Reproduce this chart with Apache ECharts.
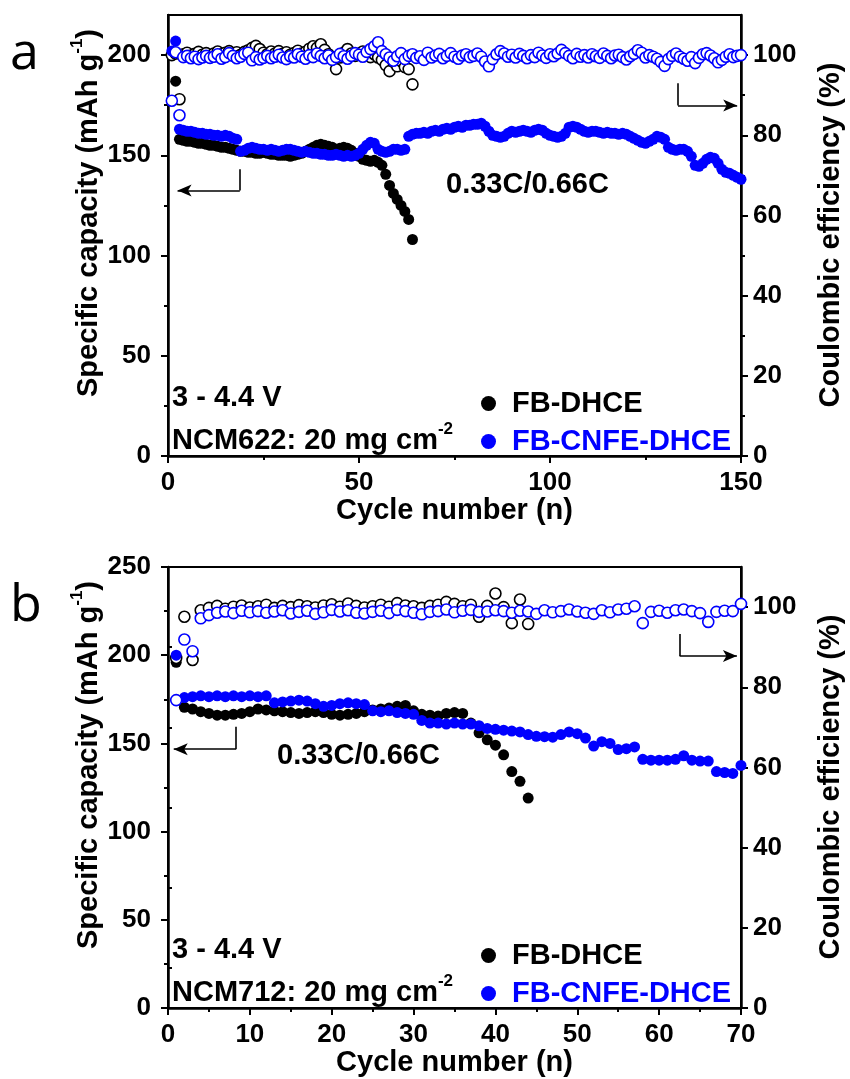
<!DOCTYPE html>
<html>
<head>
<meta charset="utf-8">
<script src="https://cdn.jsdelivr.net/npm/echarts@6/dist/echarts.min.js"></script>
<style>
  html, body { margin: 0; padding: 0; background: #fff; }
  #chart { width: 850px; height: 1079px; }
</style>
</head>
<body>
<div id="chart"></div>
<script>
// panel a: NCM622, 150 cycles
var capCnfeA = [
  202, 207, 163, 162.5, 162, 162, 161.5, 161, 161, 160.5,
  160.5, 160, 160, 159.5, 160, 159.5, 158.5, 158, 152, 152.5,
  153.5, 154, 153.5, 153, 153, 152.5, 153, 152.5, 152, 152.5,
  153, 153, 152.5, 152, 151.5, 152, 151.5, 151, 151, 150.5,
  150.5, 150, 150, 150.5, 150, 149.5, 150, 149.5, 150, 151,
  153, 155, 156.5, 156, 153, 152, 151.5, 152, 153, 153,
  152.5, 153, 159.5, 160.5, 161, 161, 161.5, 161, 162, 162.5,
  162, 163, 163.5, 163, 164, 164.5, 164, 165, 165, 165.5,
  165.5, 166, 164.5, 162, 160, 159.5, 159, 159.5, 161, 162,
  161.5, 162, 162.5, 162, 161.5, 162.5, 163, 162.5, 161, 160,
  159.5, 159, 159.5, 161, 164, 164.5, 164, 163, 162, 161.5,
  162, 162, 161.5, 161, 161.5, 161, 161, 160.5, 161, 160.5,
  159.5, 158.5, 157.5, 156.5, 156, 157, 158, 159.5, 159, 158,
  154, 153, 152.5, 153, 153, 152, 149.5, 145, 144.5, 146,
  148, 149, 148.5, 146, 143, 141.5, 141, 140, 139, 138
];
var ceCnfeA = [
  88.6, 100.7, 85, 99.5, 99.8, 99.2, 99.6, 99.0, 99.4, 99.8,
  99.3, 99.6, 100.2, 99.1, 99.5, 100.5, 99.8, 99.2, 99.6, 100.3,
  100.6, 98.7, 99.5, 98.9, 99.3, 99.8, 99.2, 99.6, 100.1, 99.4,
  99.0, 99.7, 99.4, 100.2, 99.6, 99.1, 100.0, 99.5, 100.4, 99.8,
  99.2, 99.9, 98.8, 99.5, 100.3, 99.7, 99.1, 99.8, 100.5, 100.1,
  99.6, 100.8, 101.5, 102.2, 103.2, 101.0, 100.2, 99.4, 98.6, 99.7,
  100.5, 99.0, 99.8, 100.2, 99.3, 99.7, 98.8, 100.6, 99.4, 99.9,
  100.3, 99.2, 99.8, 100.5, 99.6, 99.1, 99.9, 100.2, 99.5, 99.8,
  100.4, 99.6, 98.4, 97.2, 99.0, 100.2, 101.0, 100.4, 99.6, 100.1,
  99.4, 100.3, 99.8, 99.2, 100.0, 99.5, 100.6, 99.9, 99.3, 100.2,
  99.7, 100.4, 101.3, 100.5, 99.8, 99.2, 100.3, 99.6, 100.0, 99.4,
  100.2, 99.7, 99.3, 100.4, 99.8, 99.2, 99.9, 100.1, 99.5, 98.9,
  99.7, 100.3, 101.2, 100.6, 99.4, 100.0, 99.6, 99.1, 98.3, 97.3,
  99.0, 99.8, 100.4, 99.6, 99.1, 98.6, 99.5, 98.0, 99.3, 100.2,
  100.5, 99.9, 99.2, 98.2, 98.8, 99.6, 100.2, 99.5, 99.8, 100.0
];
var capDhceA = [
  200, 187, 158, 157.5, 157, 157, 156.5, 156, 156, 155.5,
  155, 155, 154.5, 154, 154, 153.5, 153, 152.5, 152, 152,
  151.5, 151.5, 151, 151, 151.5, 151, 150.5, 150.5, 150, 150,
  150, 149.5, 150, 150.5, 151, 152, 153, 154, 155, 155.5,
  155, 154.5, 154, 153, 153.5, 154, 153.5, 152.5, 151, 149.5,
  148, 147.5, 147, 147.5, 146.5, 145, 140.5, 135, 131, 128,
  125, 122, 118, 108
];
var ceDhceA = [
  100.0, 100.4, 89.0, 100.2, 100.6, 99.9, 100.3, 100.8, 100.1, 100.5,
  99.8, 100.4, 100.9, 100.2, 100.6, 101.0, 100.3, 100.7, 100.1, 100.8,
  101.2, 101.8, 102.3, 101.5, 100.6, 100.2, 100.9, 100.4, 101.0, 100.3,
  100.7, 100.1, 100.5, 101.1, 100.4, 100.8, 101.6, 102.2, 101.8, 102.7,
  101.3, 100.2, 99.0, 96.5, 99.4, 100.6, 101.5, 100.4, 99.8, 100.3,
  100.9, 100.1, 99.5, 100.2, 99.4, 98.8, 97.5, 96.0, 98.3, 97.2,
  98.5, 97.0, 96.5, 92.7
];

// panel b: NCM712, 70 cycles
var capCnfeB = [
  200, 176, 176.5, 177, 176.5, 177, 176.5, 177, 176.5, 177,
  176.5, 177, 173, 173.5, 174, 174.5, 174, 172.5, 171, 171.5,
  172.5, 173, 172.5, 172, 168.5, 168, 168.5, 167.5, 167, 166.5,
  163, 161.5, 161.5, 161, 161.5, 161, 161, 160, 158.5, 158,
  157.5, 157, 156.5, 155, 154, 153.8, 153.5, 155, 156.5, 155.5,
  153, 148.5, 151, 150, 146.5, 147, 148, 141, 140.5, 140.5,
  140.5, 141, 143, 140.5, 140, 140, 134, 133.5, 133, 137.5
];
var ceCnfeB = [
  76.8, 91.9, 89.0, 97.2, 98.0, 98.6, 98.9, 98.5, 99.1, 98.7,
  99.0, 98.6, 98.9, 99.2, 98.4, 98.8, 99.1, 98.3, 98.7, 99.3,
  98.9, 99.2, 98.6, 98.4, 98.8, 99.1, 98.5, 99.3, 99.0, 98.6,
  98.2, 98.8, 99.0, 99.4, 98.7, 99.1, 99.3, 98.8, 98.9, 99.2,
  99.0, 98.6, 99.1, 98.9, 98.3, 99.2, 98.7, 99.0, 99.4, 98.9,
  98.6, 98.3, 99.2, 98.7, 99.4, 99.6, 100.2, 96.0, 98.8, 99.1,
  98.6, 99.2, 99.4, 99.0, 98.5, 96.3, 98.8, 99.1, 99.0, 100.8
];
var capDhceB = [
  196, 170.5, 169.5, 168, 167, 166, 166, 166.5, 167, 168,
  169.5, 169, 168.5, 168, 167.5, 167, 167.5, 168, 167.5, 166.5,
  166, 166.5, 167, 168, 169, 169.5, 170, 171, 171.5, 168.5,
  166.5, 166, 165.5, 167, 167.5, 167, 161.5, 156, 152, 149,
  143.5, 134, 128.5, 119
];
var ceDhceB = [
  87.3, 97.6, 86.8, 99.2, 99.8, 100.3, 99.6, 100.1, 100.4, 99.9,
  100.2, 100.6, 99.8, 100.3, 100.0, 100.5, 100.2, 99.9, 100.4, 100.7,
  100.1, 100.9, 100.3, 99.9, 100.2, 100.6, 100.1, 101.0, 100.4, 100.2,
  99.8, 100.3, 100.6, 101.3, 100.8, 100.2, 100.6, 97.6, 100.3, 103.4,
  100.0, 96.0, 101.9, 95.8
];

var capTicksA = [0, 50, 100, 150, 200];
var capMinorA = [25, 75, 125, 175];
var ceTicks = [0, 20, 40, 60, 80, 100];
var ceMinor = [10, 30, 50, 70, 90];

var BLUE = '#0000ff';
var FONT = 'Liberation Sans';
var TICK_FS = 26;
var TEXT_FS = 29;

function toPoints(arr) {
  return arr.map(function (v, i) { return [i + 1, v]; });
}

var chart = echarts.init(document.getElementById('chart'));

function xAxisOf(grid, max, interval) {
  return {
    type: 'value', gridIndex: grid, min: 0, max: max, interval: interval,
    name: 'Cycle number (n)', nameLocation: 'middle', nameGap: 37,
    nameTextStyle: {fontFamily: FONT, fontWeight: 'bold', fontSize: TEXT_FS, color: '#000'},
    axisLine: {show: true, lineStyle: {color: '#000', width: 2.5}},
    axisTick: {show: true, inside: false, length: 7, lineStyle: {color: '#000', width: 2}},
    minorTick: {show: true, splitNumber: 2, length: 4, lineStyle: {color: '#000', width: 2}},
    axisLabel: {fontFamily: FONT, fontWeight: 'bold', fontSize: TICK_FS, color: '#000', margin: 14},
    splitLine: {show: false}
  };
}

function yAxisOf(grid, pos, max, interval, ticks, minor) {
  var ax = {
    type: 'value', gridIndex: grid, position: pos, min: 0, max: max, interval: interval,
    axisLine: {show: true, onZero: false, lineStyle: {color: '#000', width: 2.5}},
    axisTick: {show: true, inside: false, length: 7, lineStyle: {color: '#000', width: 2}},
    axisLabel: {fontFamily: FONT, fontWeight: 'bold', fontSize: TICK_FS, color: '#000', margin: pos === 'left' ? 17 : 12},
    splitLine: {show: false}
  };
  if (ticks) {
    ax.axisTick.customValues = ticks;
    ax.axisLabel.customValues = ticks;
  }
  if (minor === true) {
    ax.minorTick = {show: true, splitNumber: 2, length: 4, lineStyle: {color: '#000', width: 2}};
  }
  return ax;
}

function minorAxisOf(grid, pos, max, values) {
  return {
    type: 'value', gridIndex: grid, position: pos, min: 0, max: max,
    axisLine: {show: false},
    axisTick: {show: true, inside: false, length: 4, customValues: values, lineStyle: {color: '#000', width: 2}},
    axisLabel: {show: false},
    splitLine: {show: false}
  };
}

function filled(name, color, x, y, data) {
  return {
    name: name, type: 'scatter', xAxisIndex: x, yAxisIndex: y,
    symbol: 'circle', symbolSize: 11, data: toPoints(data),
    itemStyle: {color: color, opacity: 1}
  };
}

function hollow(name, color, x, y, data) {
  return {
    name: name, type: 'scatter', xAxisIndex: x, yAxisIndex: y,
    symbol: 'circle', symbolSize: 11, data: toPoints(data),
    itemStyle: {color: '#fff', borderColor: color, borderWidth: 1.6, opacity: 1}
  };
}

function arrow(p0, p1, p2) {
  return {
    silent: true, animation: false,
    symbol: ['none', 'arrow'], symbolSize: [9, 14],
    lineStyle: {color: '#000', width: 1.6, type: 'solid'},
    label: {show: false},
    data: [
      [{coord: p0, symbol: 'none'}, {coord: p1, symbol: 'none'}],
      [{coord: p1, symbol: 'none'}, {coord: p2}]
    ]
  };
}

var txt = {fontFamily: FONT, fontWeight: 'bold', fontSize: TEXT_FS, fill: '#000'};
var rich = {
  n: {fontFamily: FONT, fontWeight: 'bold', fontSize: TEXT_FS, lineHeight: 34, verticalAlign: 'bottom'},
  s: {fontFamily: FONT, fontWeight: 'bold', fontSize: 17, lineHeight: 34, verticalAlign: 'top'}
};

function label(x, y, text) {
  var st = Object.assign({text: text, textVerticalAlign: 'middle'}, txt);
  return {type: 'text', x: x, y: y, style: st, silent: true};
}

function panelGraphics(dy, ncm) {
  return [
    {type: 'text', x: 10, y: 54 + dy, silent: true,
      style: {text: dy ? 'b' : 'a', fontFamily: 'Open Sans', fontSize: 52, fill: '#000', textVerticalAlign: 'middle'}},
    {type: 'text', x: 86, y: 213 + dy, rotation: Math.PI / 2, silent: true,
      style: {text: '{n|Specific capacity (mAh g}{s|-1}{n|)}', rich: rich, fill: '#000',
        textAlign: 'center', textVerticalAlign: 'middle'}},
    {type: 'text', x: 831, y: 235 + dy, rotation: Math.PI / 2, silent: true,
      style: Object.assign({text: 'Coulombic efficiency (%)', textAlign: 'center', textVerticalAlign: 'middle'}, txt)},
    label(172, 398 + dy, '3 - 4.4 V'),
    {type: 'text', x: 172, y: 438 + dy, silent: true,
      style: {text: '{n|' + ncm + ': 20 mg cm}{s|-2}', rich: rich, fill: '#000', textVerticalAlign: 'middle'}}
  ];
}

var option = {
  animation: false,
  backgroundColor: '#fff',
  grid: [
    {left: 168, right: 109, top: 15, height: 441, show: true, borderColor: '#000', borderWidth: 2, backgroundColor: 'transparent'},
    {left: 168, right: 109, top: 567, height: 441, show: true, borderColor: '#000', borderWidth: 2, backgroundColor: 'transparent'}
  ],
  xAxis: [xAxisOf(0, 150, 50), xAxisOf(1, 70, 10)],
  yAxis: [
    yAxisOf(0, 'left', 220, 50, capTicksA, false),
    yAxisOf(0, 'right', 110, 20, ceTicks, false),
    minorAxisOf(0, 'left', 220, capMinorA),
    minorAxisOf(0, 'right', 110, ceMinor),
    yAxisOf(1, 'left', 250, 50, null, true),
    yAxisOf(1, 'right', 110, 20, ceTicks, false),
    minorAxisOf(1, 'right', 110, ceMinor)
  ],
  legend: [0, 552].map(function (dy) {
    return {
      orient: 'vertical', left: 476, top: 384 + dy, itemWidth: 15, itemHeight: 15, itemGap: 9,
      icon: 'circle', selectedMode: false,
      textStyle: {fontFamily: FONT, fontWeight: 'bold', fontSize: TEXT_FS, padding: [0, 0, 0, 11]},
      data: [
        {name: 'FB-DHCE', textStyle: {color: '#000'}},
        {name: 'FB-CNFE-DHCE', textStyle: {color: BLUE}}
      ]
    };
  }),
  graphic: panelGraphics(0, 'NCM622').concat(panelGraphics(552, 'NCM712')).concat([
    label(446, 185, '0.33C/0.66C'),
    label(277, 756, '0.33C/0.66C')
  ]),
  series: [
    filled('FB-DHCE', '#000', 0, 0, capDhceA),
    hollow('FB-DHCE CE', '#000', 0, 1, ceDhceA),
    Object.assign(filled('FB-CNFE-DHCE', BLUE, 0, 0, capCnfeA), {markLine: arrow([18.8, 143], [18.8, 132.5], [2.5, 132.5])}),
    Object.assign(hollow('FB-CNFE-DHCE CE', BLUE, 0, 1, ceCnfeA), {markLine: arrow([133.5, 93], [133.5, 87.4], [149, 87.4])}),
    filled('FB-DHCE', '#000', 1, 4, capDhceB),
    hollow('FB-DHCE CE', '#000', 1, 5, ceDhceB),
    Object.assign(filled('FB-CNFE-DHCE', BLUE, 1, 4, capCnfeB), {markLine: arrow([8.3, 159.5], [8.3, 146.7], [0.7, 146.7])}),
    Object.assign(hollow('FB-CNFE-DHCE CE', BLUE, 1, 5, ceCnfeB), {markLine: arrow([62.5, 93.3], [62.5, 87.8], [69.5, 87.8])})
  ]
};

chart.setOption(option);
</script>
</body>
</html>
